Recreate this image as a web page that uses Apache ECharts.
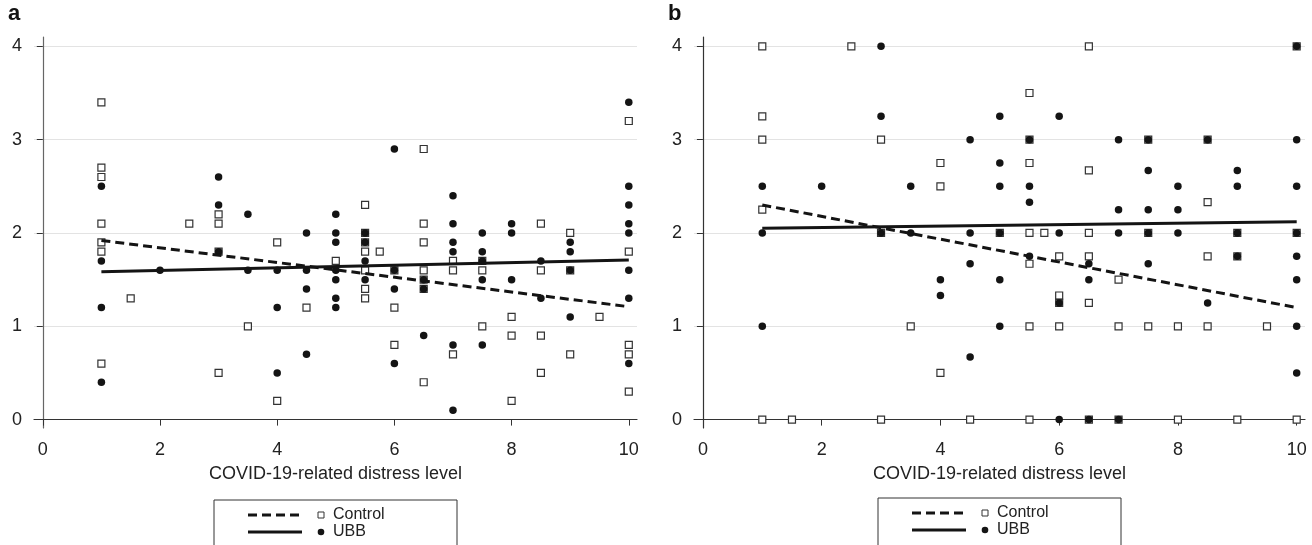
<!DOCTYPE html>
<html>
<head>
<meta charset="utf-8" />
<title>COVID-19-related distress level</title>
<script src="https://cdn.jsdelivr.net/npm/echarts@6/dist/echarts.min.js"></script>
<style>
html, body { margin: 0; padding: 0; background: #fff; }
#chart { width: 1312px; height: 545px; }
</style>
</head>
<body>
<div id="chart"></div>
<script type="text/javascript">
// ---- data ----
var xTicks = [0, 2, 4, 6, 8, 10];
var yTicks = [0, 1, 2, 3, 4];
var xName = 'COVID-19-related distress level';
var legendNames = ['Control', 'UBB'];

// panel a : [distress level, score]
var aControl = [
  [1, 3.4], [1, 2.7], [1, 2.6], [1, 2.1], [1, 1.9], [1, 1.8], [1, 0.6],
  [1.5, 1.3], [2.5, 2.1],
  [3, 2.2], [3, 2.1], [3, 1.8], [3, 0.5],
  [3.5, 1.0], [4, 1.9], [4, 0.2], [4.5, 1.2], [5, 1.7],
  [5.5, 2.3], [5.5, 2.0], [5.5, 1.9], [5.5, 1.8], [5.5, 1.6], [5.5, 1.4], [5.5, 1.3],
  [5.75, 1.8],
  [6, 1.6], [6, 1.2], [6, 0.8],
  [6.5, 2.9], [6.5, 2.1], [6.5, 1.9], [6.5, 1.6], [6.5, 1.5], [6.5, 1.4], [6.5, 0.4],
  [7, 1.7], [7, 1.6], [7, 0.7],
  [7.5, 1.7], [7.5, 1.6], [7.5, 1.0],
  [8, 1.1], [8, 0.9], [8, 0.2],
  [8.5, 2.1], [8.5, 1.6], [8.5, 0.9], [8.5, 0.5],
  [9, 2.0], [9, 1.6], [9, 0.7],
  [9.5, 1.1],
  [10, 3.2], [10, 1.8], [10, 0.8], [10, 0.7], [10, 0.3]
];
var aUBB = [
  [1, 2.5], [1, 1.7], [1, 1.2], [1, 0.4],
  [2, 1.6],
  [3, 2.6], [3, 2.3], [3, 1.8],
  [3.5, 2.2], [3.5, 1.6],
  [4, 1.6], [4, 1.2], [4, 0.5],
  [4.5, 2.0], [4.5, 1.6], [4.5, 1.4], [4.5, 0.7],
  [5, 2.2], [5, 2.0], [5, 1.9], [5, 1.6], [5, 1.5], [5, 1.3], [5, 1.2],
  [5.5, 2.0], [5.5, 1.9], [5.5, 1.7], [5.5, 1.5],
  [6, 2.9], [6, 1.6], [6, 1.4], [6, 0.6],
  [6.5, 1.5], [6.5, 1.4], [6.5, 0.9],
  [7, 2.4], [7, 2.1], [7, 1.9], [7, 1.8], [7, 0.8], [7, 0.1],
  [7.5, 2.0], [7.5, 1.8], [7.5, 1.7], [7.5, 1.5], [7.5, 0.8],
  [8, 2.1], [8, 2.0], [8, 1.5],
  [8.5, 1.7], [8.5, 1.3],
  [9, 1.9], [9, 1.8], [9, 1.6], [9, 1.1],
  [10, 3.4], [10, 2.5], [10, 2.3], [10, 2.1], [10, 2.0], [10, 1.6], [10, 1.3], [10, 0.6]
];
var aFitControl = [[1, 1.92], [10, 1.21]];
var aFitUBB = [[1, 1.585], [10, 1.71]];

// panel b
var bControl = [
  [1, 4.0], [1, 3.25], [1, 3.0], [1, 2.25], [1, 0],
  [1.5, 0], [2.5, 4.0],
  [3, 3.0], [3, 2.0], [3, 0],
  [3.5, 1.0],
  [4, 2.75], [4, 2.5], [4, 0.5],
  [4.5, 0], [5, 2.0],
  [5.5, 3.5], [5.5, 3.0], [5.5, 2.75], [5.5, 2.0], [5.5, 1.67], [5.5, 1.0], [5.5, 0],
  [5.75, 2.0],
  [6, 1.75], [6, 1.33], [6, 1.25], [6, 1.0],
  [6.5, 4.0], [6.5, 2.67], [6.5, 2.0], [6.5, 1.75], [6.5, 1.25], [6.5, 0],
  [7, 1.5], [7, 1.0], [7, 0],
  [7.5, 3.0], [7.5, 2.0], [7.5, 1.0],
  [8, 1.0], [8, 0],
  [8.5, 3.0], [8.5, 2.33], [8.5, 1.75], [8.5, 1.0],
  [9, 2.0], [9, 1.75], [9, 0],
  [9.5, 1.0],
  [10, 4.0], [10, 2.0], [10, 0]
];
var bUBB = [
  [1, 2.5], [1, 2.0], [1, 1.0],
  [2, 2.5],
  [3, 4.0], [3, 3.25], [3, 2.0],
  [3.5, 2.5], [3.5, 2.0],
  [4, 1.5], [4, 1.33],
  [4.5, 3.0], [4.5, 2.0], [4.5, 1.67], [4.5, 0.67],
  [5, 3.25], [5, 2.75], [5, 2.5], [5, 2.0], [5, 1.5], [5, 1.0],
  [5.5, 3.0], [5.5, 2.5], [5.5, 2.33], [5.5, 1.75],
  [6, 3.25], [6, 2.0], [6, 1.25], [6, 0],
  [6.5, 1.67], [6.5, 1.5], [6.5, 0],
  [7, 3.0], [7, 2.25], [7, 2.0], [7, 0],
  [7.5, 3.0], [7.5, 2.67], [7.5, 2.25], [7.5, 2.0], [7.5, 1.67],
  [8, 2.5], [8, 2.25], [8, 2.0],
  [8.5, 3.0], [8.5, 1.25],
  [9, 2.67], [9, 2.5], [9, 2.0], [9, 1.75],
  [10, 4.0], [10, 3.0], [10, 2.5], [10, 2.0], [10, 1.75], [10, 1.5], [10, 1.0], [10, 0.5]
];
var bFitControl = [[1, 2.30], [10, 1.20]];
var bFitUBB = [[1, 2.05], [10, 2.12]];

// ---- chart ----
var FONT = '"Liberation Sans", Arial, sans-serif';
var INK = '#141414';

function xAxisOf(gi) {
  return {
    gridIndex: gi, type: 'value', min: -0.15, max: 10.14,
    name: xName, nameLocation: 'middle', nameGap: 37,
    nameTextStyle: { fontFamily: FONT, fontSize: 18, color: '#222' },
    axisLine: { show: true, lineStyle: { color: '#333', width: 1.2 } },
    axisTick: { show: true, length: 6, customValues: xTicks, lineStyle: { color: '#333' } },
    axisLabel: { customValues: xTicks, fontFamily: FONT, fontSize: 18, color: '#222', margin: 13 },
    splitLine: { show: false }
  };
}
function yAxisOf(gi) {
  return {
    gridIndex: gi, type: 'value', min: -0.09, max: 4.1,
    axisLine: { show: true, lineStyle: { color: gi === 0 ? '#666' : '#333', width: 1.2 } },
    axisTick: { show: true, length: 6, customValues: yTicks, lineStyle: { color: '#333' } },
    axisLabel: { customValues: yTicks, fontFamily: FONT, fontSize: 18, color: '#222', margin: 12 },
    splitLine: { show: true, lineStyle: { color: '#e3e3e3', width: 1.2 } }
  };
}
function controlSeries(gi, data) {
  return {
    type: 'scatter', xAxisIndex: gi, yAxisIndex: gi, data: data,
    symbol: 'rect', symbolSize: 7, z: 3,
    itemStyle: { color: '#fff', borderColor: '#333', borderWidth: 1.2, opacity: 1 }
  };
}
function ubbSeries(gi, data) {
  return {
    type: 'scatter', xAxisIndex: gi, yAxisIndex: gi, data: data,
    symbol: 'circle', symbolSize: 7.5, z: 4,
    itemStyle: { color: INK, opacity: 1 }
  };
}
function fitSeries(gi, data, dashed) {
  return {
    type: 'line', xAxisIndex: gi, yAxisIndex: gi, data: data,
    showSymbol: false, z: 5, silent: true,
    lineStyle: { color: INK, width: 3, type: dashed ? [9, 5] : 'solid' }
  };
}

function legendBox(left, top) {
  var lx = left + 34, mx = left + 107, tx = left + 119;
  return [
    { type: 'rect', shape: { x: left, y: top, width: 243, height: 70 },
      style: { fill: '#fff', stroke: '#333', lineWidth: 1 } },
    { type: 'line', shape: { x1: lx, y1: top + 15, x2: lx + 54, y2: top + 15 },
      style: { stroke: INK, lineWidth: 3, lineDash: [9, 5] } },
    { type: 'rect', shape: { x: mx - 3, y: top + 12, width: 6, height: 6 },
      style: { fill: '#fff', stroke: '#333', lineWidth: 1 } },
    { type: 'text', x: tx, y: top + 15,
      style: { text: legendNames[0], font: '16px ' + FONT, fill: '#222', verticalAlign: 'middle' } },
    { type: 'line', shape: { x1: lx, y1: top + 32, x2: lx + 54, y2: top + 32 },
      style: { stroke: INK, lineWidth: 3 } },
    { type: 'circle', shape: { cx: mx, cy: top + 32, r: 3.3 }, style: { fill: INK } },
    { type: 'text', x: tx, y: top + 32,
      style: { text: legendNames[1], font: '16px ' + FONT, fill: '#222', verticalAlign: 'middle' } }
  ];
}

var chart = echarts.init(document.getElementById('chart'), null, { renderer: 'canvas' });
chart.setOption({
  backgroundColor: '#fff',
  animation: false,
  grid: [
    { left: 34, top: 37, width: 603, height: 391 },
    { left: 694, top: 37, width: 611, height: 391 }
  ],
  xAxis: [xAxisOf(0), xAxisOf(1)],
  yAxis: [yAxisOf(0), yAxisOf(1)],
  series: [
    controlSeries(0, aControl), ubbSeries(0, aUBB),
    fitSeries(0, aFitControl, true), fitSeries(0, aFitUBB, false),
    controlSeries(1, bControl), ubbSeries(1, bUBB),
    fitSeries(1, bFitControl, true), fitSeries(1, bFitUBB, false)
  ],
  graphic: [
    { type: 'text', x: 8, y: 3, style: { text: 'a', font: 'bold 22px ' + FONT, fill: '#111' } },
    { type: 'text', x: 668, y: 3, style: { text: 'b', font: 'bold 22px ' + FONT, fill: '#111' } }
  ].concat(legendBox(214, 500)).concat(legendBox(878, 498))
});
</script>
</body>
</html>
